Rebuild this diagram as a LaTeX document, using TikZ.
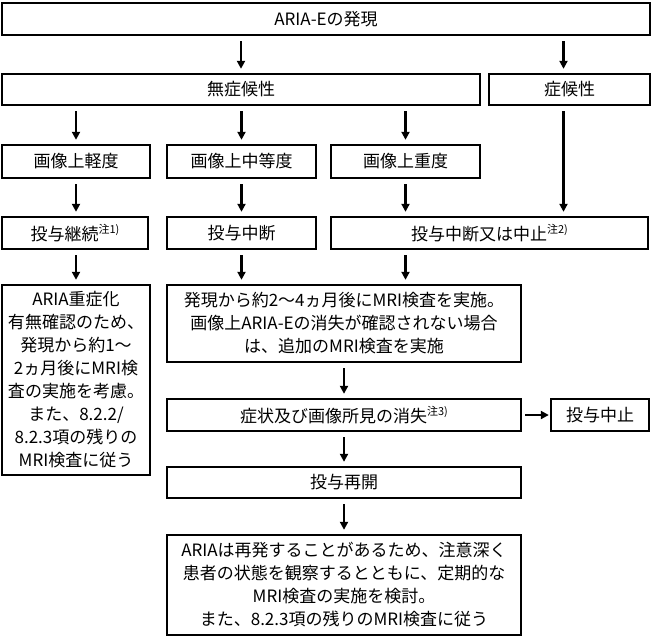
\documentclass[tikz,border=0pt]{standalone}
\usepackage{fontspec}
\setmainfont{Noto Sans CJK JP}
\usetikzlibrary{arrows.meta}
\newcommand{\chu}[1]{\raisebox{0.4em}{\fontsize{11}{11}\selectfont 注#1)}}

\begin{document}
\begin{tikzpicture}[x=1pt,y=-1pt]
	\tikzstyle{box} = [rectangle,draw=black,line width=2.4pt,inner sep=0pt,align=center,font=\fontsize{17}{23}\selectfont]
	\tikzstyle{edge} = [draw=black,line width=2.4pt,-{Triangle[length=8pt,width=8pt]},shorten <=5pt,shorten >=4pt]
	\useasboundingbox (0,0) rectangle (652,638);
	\node[box,minimum width=648,minimum height=32] (onset) at (326,19) {ARIA-Eの発現};
	\node[box,minimum width=478,minimum height=31] (asym) at (241,89.5) {無症候性};
	\node[box,minimum width=161,minimum height=31] (sym) at (569.5,89.5) {症候性};
	\node[box,minimum width=148,minimum height=33] (mild) at (76,161.5) {画像上軽度};
	\node[box,minimum width=149,minimum height=33] (moderate) at (241.5,161.5) {画像上中等度};
	\node[box,minimum width=149,minimum height=33] (severe) at (405.5,161.5) {画像上重度};
	\node[box,minimum width=146,minimum height=32] (cont) at (75,233) {投与継続\chu{1}};
	\node[box,minimum width=149,minimum height=32] (pause) at (241.5,233) {投与中断};
	\node[box,minimum width=317,minimum height=32] (pausestop) at (489.5,233) {投与中断又は中止\chu{2}};
	\node[box,minimum width=148,minimum height=190] (check) at (76,380) {ARIA重症化\\有無確認のため、\\発現から約1〜\\2ヵ月後にMRI検\\査の実施を考慮。\\また、8.2.2/\\8.2.3項の残りの\\MRI検査に従う};
	\node[box,minimum width=354,minimum height=77] (mri) at (344,323.5) {発現から約2〜4ヵ月後にMRI検査を実施。\\画像上ARIA-Eの消失が確認されない場合\\は、追加のMRI検査を実施};
	\node[box,minimum width=354,minimum height=32] (resolved) at (344,415) {症状及び画像所見の消失\chu{3}};
	\node[box,minimum width=98,minimum height=32] (quit) at (600,415) {投与中止};
	\node[box,minimum width=354,minimum height=31] (resume) at (344,482.5) {投与再開};
	\node[box,minimum width=354,minimum height=100] (watch) at (344,585) {ARIAは再発することがあるため、注意深く\\患者の状態を観察するとともに、定期的な\\MRI検査の実施を検討。\\また、8.2.3項の残りのMRI検査に従う};

	\draw[edge] (onset.south -| asym.north) -- (asym.north);
	\draw[edge] ([xshift=-6]onset.south -| sym.north) -- ([xshift=-6]sym.north);
	\draw[edge] (asym.south -| mild.north) -- (mild.north);
	\draw[edge] (asym.south -| moderate.north) -- (moderate.north);
	\draw[edge] (asym.south -| severe.north) -- (severe.north);
	\draw[edge] ([xshift=-6]sym.south) -- ([xshift=-6]sym.south |- pausestop.north);
	\draw[edge] (mild.south) -- (mild.south |- cont.north);
	\draw[edge] (moderate.south) -- (pause.north);
	\draw[edge] (severe.south) -- (severe.south |- pausestop.north);
	\draw[edge] (cont.south -| mild.south) -- (mild.south |- check.north);
	\draw[edge] (pause.south) -- (pause.south |- mri.north);
	\draw[edge] (severe.south |- pausestop.south) -- (severe.south |- mri.north);
	\draw[edge] (mri.south) -- (resolved.north);
	\draw[edge,shorten <=3pt,shorten >=1pt] (resolved.east) -- (quit.west);
	\draw[edge] (resolved.south) -- (resume.north);
	\draw[edge] (resume.south) -- (watch.north);
\end{tikzpicture}
\end{document}
